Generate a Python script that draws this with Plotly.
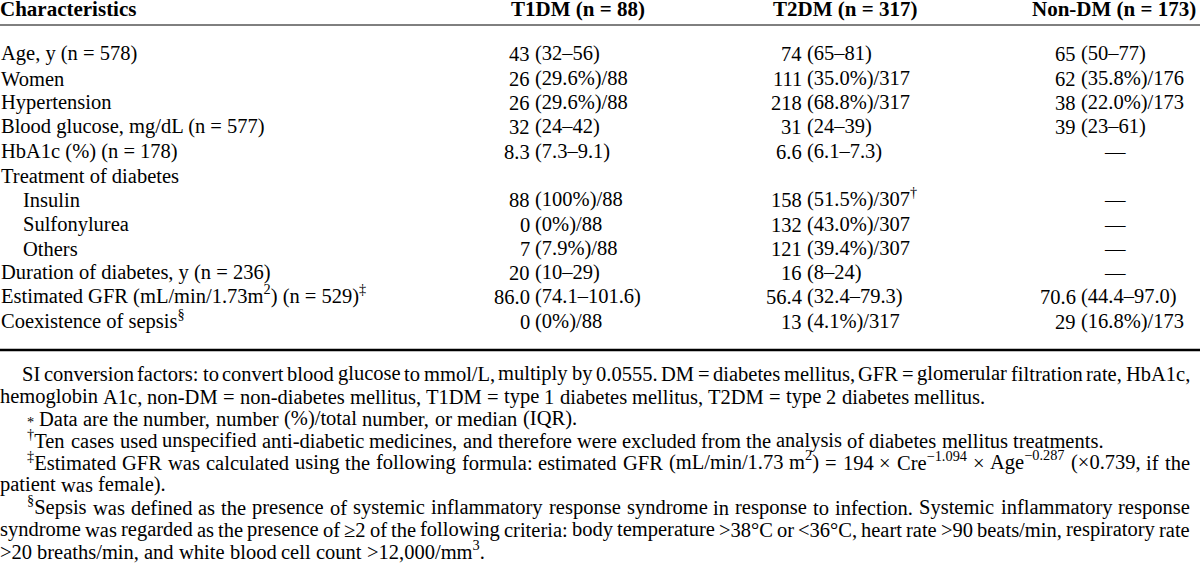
import re
import html
import plotly.graph_objects as go

# ---------------- data ----------------
headers = ["Characteristics", "T1DM (n = 88)", "T2DM (n = 317)", "Non-DM (n = 173)"]

characteristics = [
    "Age, y (n = 578)",
    "Women",
    "Hypertension",
    "Blood glucose, mg/dL (n = 577)",
    "HbA1c (%) (n = 178)",
    "Treatment of diabetes",
    "Insulin",
    "Sulfonylurea",
    "Others",
    "Duration of diabetes, y (n = 236)",
    "Estimated GFR (mL/min/1.73m<sup>2</sup>) (n = 529)<sup>‡</sup>",
    "Coexistence of sepsis<sup>§</sup>",
]
indent_level = [0, 0, 0, 0, 0, 0, 1, 1, 1, 0, 0, 0]

t1dm = ["43 (32–56)", "26 (29.6%)/88", "26 (29.6%)/88", "32 (24–42)", "8.3 (7.3–9.1)", "",
        "88 (100%)/88", "0 (0%)/88", "7 (7.9%)/88", "20 (10–29)", "86.0 (74.1–101.6)", "0 (0%)/88"]
t2dm = ["74 (65–81)", "111 (35.0%)/317", "218 (68.8%)/317", "31 (24–39)", "6.6 (6.1–7.3)", "",
        "158 (51.5%)/307<sup>†</sup>", "132 (43.0%)/307", "121 (39.4%)/307", "16 (8–24)",
        "56.4 (32.4–79.3)", "13 (4.1%)/317"]
nondm = ["65 (50–77)", "62 (35.8%)/176", "38 (22.0%)/173", "39 (23–61)", "—", "",
         "—", "—", "—", "—", "70.6 (44.4–97.0)", "29 (16.8%)/173"]

footnotes = [
    "SI conversion factors: to convert blood glucose to mmol/L, multiply by 0.0555. DM = diabetes mellitus, GFR = glomerular filtration rate, HbA1c,",
    "hemoglobin A1c, non-DM = non-diabetes mellitus, T1DM = type 1 diabetes mellitus, T2DM = type 2 diabetes mellitus.",
    "<sup>*</sup> Data are the number, number (%)/total number, or median (IQR).",
    "<sup>†</sup>Ten cases used unspecified anti-diabetic medicines, and therefore were excluded from the analysis of diabetes mellitus treatments.",
    "<sup>‡</sup>Estimated GFR was calculated using the following formula: estimated GFR (mL/min/1.73 m<sup>2</sup>) = 194 × Cre<sup>−1.094</sup> × Age<sup>−0.287</sup> (×0.739, if the",
    "patient was female).",
    "<sup>§</sup>Sepsis was defined as the presence of systemic inflammatory response syndrome in response to infection. Systemic inflammatory response",
    "syndrome was regarded as the presence of ≥2 of the following criteria: body temperature &gt;38°C or &lt;36°C, heart rate &gt;90 beats/min, respiratory rate",
    "&gt;20 breaths/min, and white blood cell count &gt;12,000/mm<sup>3</sup>.",
]
footnote_indent = ["para", "none", "mark", "mark", "mark", "none", "mark", "none", "none"]
footnote_justify = [True, False, False, False, True, False, True, True, False]

# ---------------- style / layout ----------------
W, H = 1200, 566
FONT = "Liberation Serif, Times New Roman, serif"
FS = 20.5
FS_HEAD = 21
COLOR = "#000000"
DESC = 0.216  # font descent (em), used to sit text on its baseline

header_base = 16
rule_top = 25
row_base0 = 61
row_step = 24.3
rule_bottom = 350
note_base0 = 381
note_step = 22.2

label_x = [1, 23]
header_cx = [None, 578, 845, 1114]
paren_x = [535, 807, 1081]
dash_cx = [578, 845, 1115]
space_w = 0.25 * FS
note_left = {"para": 22, "mark": 27, "none": 0}
note_right = 1190

# Times-Roman advance widths (1/1000 em)
CW = {' ': 250, '!': 333, '"': 408, '#': 500, '$': 500, '%': 833, '&': 778, "'": 180,
      '(': 333, ')': 333, '*': 500, '+': 564, ',': 250, '-': 333, '.': 250, '/': 278, ':': 278, ';': 278,
      '<': 564, '=': 564, '>': 564, '?': 444, '@': 921, '–': 500, '—': 1000, '×': 564, '−': 564,
      '≥': 549, '°': 400, '§': 500, '†': 500, '‡': 500}
for c in "0123456789":
    CW[c] = 500
for c, w in zip("ABCDEFGHIJKLMNOPQRSTUVWXYZ",
                [722, 667, 667, 722, 611, 556, 722, 722, 333, 389, 722, 611, 889, 722, 722, 556, 722, 667,
                 556, 611, 722, 722, 944, 722, 722, 611]):
    CW[c] = w
for c, w in zip("abcdefghijklmnopqrstuvwxyz",
                [444, 500, 444, 500, 444, 333, 500, 500, 278, 278, 500, 278, 778, 500, 500, 500, 500, 333,
                 389, 278, 500, 500, 722, 500, 500, 444]):
    CW[c] = w


def text_width(s, fs=FS):
    total, scale = 0.0, 1.0
    for tok in re.split(r"(<sup>|</sup>)", s):
        if tok == "<sup>":
            scale = 0.7
            continue
        if tok == "</sup>":
            scale = 1.0
            continue
        for ch in html.unescape(tok):
            total += CW.get(ch, 500) * scale
    return total / 1000.0 * fs


annotations = []


def add_text(x, baseline, text, anchor="left", bold=False, size=FS):
    if bold:
        text = "<b>" + text + "</b>"
    annotations.append(dict(
        x=x, y=baseline + DESC * size, xref="x", yref="y", text=text, showarrow=False,
        xanchor=anchor, yanchor="bottom", align=anchor,
        borderpad=0, borderwidth=0,
        font=dict(family=FONT, size=size, color=COLOR),
    ))


# header
add_text(0, header_base, headers[0], "left", bold=True, size=FS_HEAD)
for j in range(1, 4):
    add_text(header_cx[j], header_base, headers[j], "center", bold=True, size=FS_HEAD)

# body
columns = [t1dm, t2dm, nondm]
for i, label in enumerate(characteristics):
    base = row_base0 + i * row_step
    add_text(label_x[indent_level[i]], base, label, "left")
    for j, col in enumerate(columns):
        cell = col[i]
        if not cell:
            continue
        if " " in cell:
            num, rest = cell.split(" ", 1)
            add_text(paren_x[j] - space_w, base, num, "right")
            add_text(paren_x[j], base, rest, "left")
        else:
            add_text(dash_cx[j], base, cell, "center")

# footnotes (justified lines are laid out word by word)
for k, line in enumerate(footnotes):
    base = note_base0 + k * note_step
    words = line.split(" ")
    widths = [text_width(w) for w in words]
    x0 = note_left[footnote_indent[k]]
    if footnote_justify[k] and len(words) > 1:
        gap = (note_right - x0 - sum(widths)) / (len(words) - 1)
    else:
        gap = space_w
    x = x0
    for w, wd in zip(words, widths):
        add_text(x, base, w, "left")
        x += wd + gap

fig = go.Figure()
fig.add_trace(go.Scatter(x=[0, W], y=[0, H], mode="markers", marker=dict(opacity=0),
                         hoverinfo="skip", showlegend=False))
fig.add_shape(type="line", x0=0, x1=W, y0=rule_top, y1=rule_top, xref="x", yref="y",
              line=dict(color=COLOR, width=1))
fig.add_shape(type="line", x0=0, x1=W, y0=rule_bottom, y1=rule_bottom, xref="x", yref="y",
              line=dict(color=COLOR, width=2.5))

fig.update_layout(
    width=W, height=H, margin=dict(l=0, r=0, t=0, b=0),
    paper_bgcolor="white", plot_bgcolor="white",
    xaxis=dict(range=[0, W], visible=False, fixedrange=True),
    yaxis=dict(range=[H, 0], visible=False, fixedrange=True),
    annotations=annotations, showlegend=False,
)

fig.write_html("out.html", config={"displayModeBar": False},
               post_script="document.body.style.margin='0';")
